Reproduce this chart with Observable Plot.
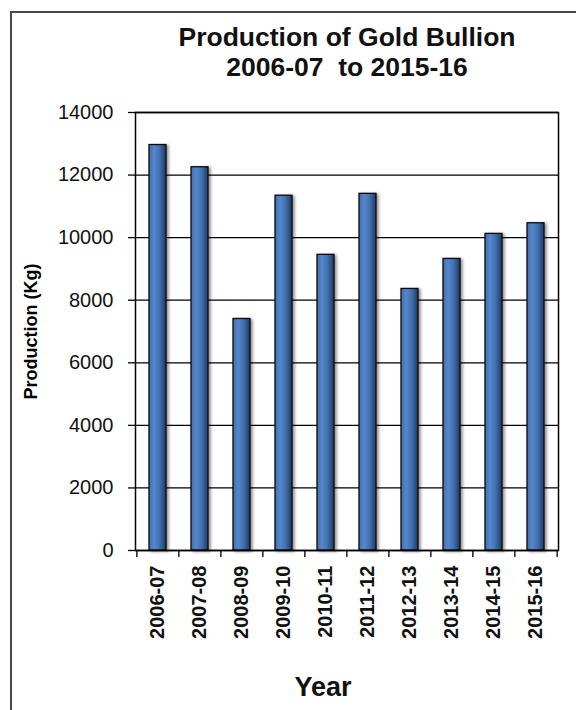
<!DOCTYPE html>
<html><head><meta charset="utf-8">
<script src="https://cdn.jsdelivr.net/npm/d3@7"></script>
<script src="https://cdn.jsdelivr.net/npm/@observablehq/plot@0.6"></script>
<style>
body{margin:0;background:#fff;}
#wrap{position:relative;width:576px;height:710px;overflow:hidden;font-family:"Liberation Sans",Arial,sans-serif;}
#border{position:absolute;left:10px;top:11px;width:620px;height:740px;border:2px solid #474747;box-sizing:border-box;}
#chart{position:absolute;left:0;top:0;}
g[aria-label="bar"] rect{filter:drop-shadow(2px 1px 1.5px rgba(0,0,0,0.45));}
g[aria-label="x-axis tick label"] text{font-weight:bold;}
</style></head><body>
<svg width="0" height="0" style="position:absolute"><defs>
<linearGradient id="barGrad" x1="0" x2="1" y1="0" y2="0">
<stop offset="0" stop-color="#426fae"/>
<stop offset="0.3" stop-color="#5687cb"/>
<stop offset="0.6" stop-color="#4372b3"/>
<stop offset="1" stop-color="#203a63"/>
</linearGradient></defs></svg>
<div id="wrap"><div id="border"></div><div id="chart"></div></div>
<script>
const years = ["2006-07","2007-08","2008-09","2009-10","2010-11","2011-12","2012-13","2013-14","2014-15","2015-16"];
const production = [12960, 12250, 7400, 11340, 9450, 11400, 8360, 9320, 10120, 10460];
const yTicks = [0, 2000, 4000, 6000, 8000, 10000, 12000, 14000];
const titleLine1 = "Production of Gold Bullion";
const titleLine2 = "2006-07  to 2015-16";
const yLabel = "Production (Kg)";
const xLabel = "Year";

const data = years.map((year, i) => ({year, value: production[i]}));
const W = 576, H = 710, mL = 135, mR = 18, mT = 112, mB = 160;
const pInner = 0.6, pOuter = 0.3;
const step = (W - mL - mR) / (years.length - pInner + 2 * pOuter);
const font = '"Liberation Sans", Arial, sans-serif';

const plot = Plot.plot({
  width: W, height: H,
  marginLeft: mL, marginRight: mR, marginTop: mT, marginBottom: mB,
  style: {fontFamily: font, background: "transparent", color: "#111", overflow: "visible"},
  x: {domain: years, paddingInner: pInner, paddingOuter: pOuter, label: null},
  y: {domain: [0, 14000], label: null},
  marks: [
    Plot.ruleY(yTicks, {stroke: "#000", strokeWidth: 1.3}),
    Plot.barY(data, {x: "year", y: "value", fill: "url(#barGrad)", stroke: "#0b0b0b", strokeWidth: 1.3}),
    Plot.frame({stroke: "#000", strokeWidth: 1.5}),
    Plot.axisY({ticks: yTicks, tickSize: 7, tickPadding: 15, fontSize: 20, tickFormat: d3.format("d"), stroke: "#000", strokeWidth: 1.3}),
    Plot.axisX({tickSize: 0, tickPadding: 15, tickRotate: -90, fontSize: 20, fontWeight: "bold"}),
    Plot.ruleX(years, {x: d => d, dx: -step / 2, y1: 0, y2: 0, insetBottom: -7, stroke: "#000", strokeWidth: 1.3}),
    Plot.ruleX([years[years.length - 1]], {x: d => d, dx: step / 2, y1: 0, y2: 0, insetBottom: -7, stroke: "#000", strokeWidth: 1.3}),
    Plot.text([titleLine1], {frameAnchor: "top", dy: -67, lineAnchor: "bottom", fontSize: 26.5, fontWeight: "bold", fill: "#111"}),
    Plot.text([titleLine2], {frameAnchor: "top", dy: -37, lineAnchor: "bottom", fontSize: 26.5, fontWeight: "bold", fill: "#111"}),
    Plot.text([yLabel], {frameAnchor: "left", textAnchor: "middle", dx: -104, rotate: -90, fontSize: 18, fontWeight: "bold", fill: "#000"}),
    Plot.text([xLabel], {frameAnchor: "bottom", dx: -24, dy: 145, lineAnchor: "bottom", fontSize: 27, fontWeight: "bold", fill: "#111"})
  ]
});
document.getElementById("chart").appendChild(plot);
</script>
</body></html>
